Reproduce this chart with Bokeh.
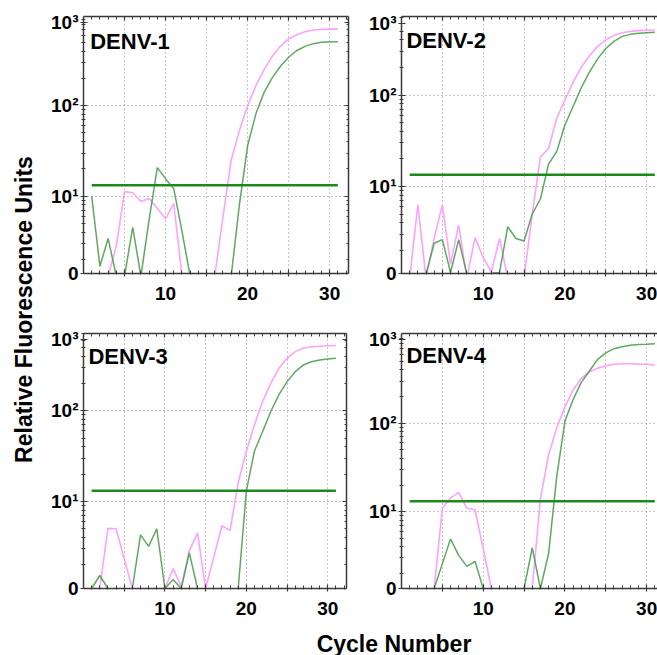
import math
from bokeh.plotting import figure
from bokeh.models import Range1d, FixedTicker, CustomJSTickFormatter, LinearAxis, LogAxis, Label
from bokeh.layouts import row, column
from bokeh.embed import file_html
from bokeh.resources import INLINE

# ---------------- data ----------------
cycles = list(range(1, 32))
panel_names = ["DENV-1", "DENV-2", "DENV-3", "DENV-4"]

pink_d1 = [1.3, 1.3, 1.3, 2.8, 11.2, 10.9, 8.7, 9.4, 7.3, 5.6, 8.3, 1.3, 1.3, 1.3, 1.3, 1.3,
           5.9, 24.9, 53, 100, 166, 250, 353, 457, 550, 612, 660, 690, 701, 707, 707]
green_d1 = [10, 1.67, 3.4, 1.3, 1.3, 4.5, 1.3, 5.5, 20.7, 15.6, 12.1, 4.1, 1.3, 1.3, 1.3, 1.3,
            1.3, 1.3, 8, 36, 81, 140, 204, 274, 345, 410, 455, 488, 506, 510, 512]

pink_d2 = [1.0, 6.3, 1.0, 2.75, 6.3, 1.41, 3.8, 1.0, 2.76, 1.67, 1.17, 2.7, 1.0, 1.0, 1.0, 5.0,
           21, 26, 56, 88, 138, 201, 269, 340, 401, 448, 480, 496, 505, 510, 513]
green_d2 = [1.0, 1.0, 1.1, 2.4, 2.63, 1.15, 2.63, 1.1, 1.0, 1.0, 1.13, 1.15, 3.65, 2.7, 2.54, 5.0,
            7.3, 17.6, 24.2, 47, 75, 120, 178, 248, 322, 385, 437, 460, 473, 480, 485]

pink_d3 = [1.0, 1.1, 5.06, 5.0, 2.34, 1.1, 1.0, 1.0, 1.0, 1.1, 1.82, 1.16, 2.88, 4.5, 1.1, 2.44,
           5.4, 4.8, 16.1, 35.9, 70, 127, 200, 293, 377, 447, 486, 506, 513, 518, 523]
green_d3 = [1.1, 1.53, 1.1, 1.0, 1.0, 1.1, 4.28, 3.2, 5.0, 1.1, 1.38, 1.1, 2.72, 1.1, 1.0, 1.0,
            1.0, 1.0, 1.1, 13.1, 36, 59, 98, 150, 209, 269, 318, 346, 362, 371, 377]

pink_d4 = [1.25, 1.25, 1.25, 1.35, 10.9, 14.3, 16.5, 10.9, 10.5, 3.8, 1.35, 1.25, 1.25, 1.25, 1.25, 1.35,
           13.9, 44, 89, 152, 238, 322, 383, 420, 445, 464, 470, 470, 466, 464, 452]
green_d4 = [1.25, 1.25, 1.25, 1.35, 2.58, 4.9, 3.2, 2.4, 2.74, 1.35, 1.25, 1.25, 1.25, 1.25, 1.35, 3.9,
            1.35, 3.34, 25, 105, 185, 290, 390, 527, 626, 697, 732, 760, 775, 780, 795]

pink_series = [pink_d1, pink_d2, pink_d3, pink_d4]
green_series = [green_d1, green_d2, green_d3, green_d4]
thresholds = [13.2, 13.4, 13.1, 13.1]

y_bottom = [1.39, 1.12, 1.1, 1.35]
y_top = [975, 721, 708, 1035]
x_end = [32.3, 31.33, 32.3, 31.33]
y_tick_labels = ["0", "10\u00b9", "10\u00b2", "10\u00b3"]
x_major_ticks = [5, 10, 15, 20, 25, 30]
x_minor_ticks = list(range(1, 33))
y_grid_ticks = [10, 100]
y_minor_ticks = [2, 3, 4, 5, 6, 7, 8, 9, 20, 30, 40, 50, 60, 70, 80, 90,
                 200, 300, 400, 500, 600, 700, 800, 900]

# ---------------- layout / style ----------------
FONT = "Liberation Sans"
AX = "#3a3a3a"
PINK = "#ff9cff"
GREEN = "#4f9f4f"
THR = "#1e8a1e"

# width, height, border left, right, top, bottom
geom = [
    (304, 320, 35, 4, 15, 46),
    (305, 320, 49, 0, 16, 47),
    (304, 304, 33, 6, 12, 36),
    (305, 304, 49, 0, 13, 34),
]
title_x = [0.82, 0.6, 0.6, 0.6]
title_drop = [25, 24, 23.3, 21.7]   # px from frame top to title baseline
top_label_drop = 6.5                # px: "10^3" label sits just below the top


def y_at(bot, top, frame_h, drop):
    lb, lt = math.log10(bot), math.log10(top)
    return 10 ** (lt - drop * (lt - lb) / frame_h)


x_fmt_code = "const r = Math.round(tick); return (r % 10 === 0) ? String(r) : '';"
y_fmt_code = """
let best = 0, bd = 1e9;
for (let i = 0; i < vals.length; i++) {
  const d = Math.abs(Math.log(tick) - Math.log(vals[i]));
  if (d < bd) { bd = d; best = i; }
}
return labs[best];
"""
blank_code = "return '';"


def style_common(ax):
    ax.axis_line_color = AX
    ax.axis_line_width = 1.5
    ax.major_tick_line_color = AX
    ax.minor_tick_line_color = AX
    ax.major_tick_line_width = 1.2
    ax.minor_tick_line_width = 1.0


panels = []
for i in range(4):
    w, h, bl, br, bt, bb = geom[i]
    frame_h = h - bt - bb
    bot, top = y_bottom[i], y_top[i]
    p = figure(width=w, height=h, x_range=Range1d(0, x_end[i]), y_range=Range1d(bot, top),
               y_axis_type="log", toolbar_location=None, output_backend="svg",
               min_border_left=bl, min_border_right=br, min_border_top=bt, min_border_bottom=bb,
               background_fill_color="white", border_fill_color="white")
    p.outline_line_color = None

    top_tick = y_at(bot, top, frame_h, top_label_drop)
    yticks = [bot, 10, 100, top_tick]

    x_ticker = FixedTicker(ticks=x_major_ticks, minor_ticks=x_minor_ticks)
    y_ticker = FixedTicker(ticks=yticks, minor_ticks=y_minor_ticks)

    xa = p.xaxis[0]
    xa.ticker = x_ticker
    xa.formatter = CustomJSTickFormatter(code=x_fmt_code)
    style_common(xa)
    xa.major_tick_in = 4
    xa.major_tick_out = 3
    xa.minor_tick_in = 3
    xa.minor_tick_out = 1
    xa.major_label_standoff = 10
    xa.major_label_text_font = FONT
    xa.major_label_text_font_style = "bold"
    xa.major_label_text_font_size = "19px"
    xa.major_label_text_color = "black"

    ya = p.yaxis[0]
    ya.ticker = y_ticker
    ya.formatter = CustomJSTickFormatter(args=dict(vals=yticks, labs=y_tick_labels), code=y_fmt_code)
    style_common(ya)
    ya.major_tick_in = 4
    ya.major_tick_out = 3
    ya.minor_tick_in = 2
    ya.minor_tick_out = 2
    ya.major_label_standoff = 2
    ya.major_label_text_font = FONT
    ya.major_label_text_font_style = "bold"
    ya.major_label_text_font_size = "19px"
    ya.major_label_text_color = "black"

    above = LinearAxis(ticker=x_ticker, formatter=CustomJSTickFormatter(code=blank_code))
    style_common(above)
    above.major_tick_in = 4
    above.major_tick_out = 0
    above.minor_tick_in = 3
    above.minor_tick_out = 0
    above.major_label_standoff = 0
    above.major_label_text_font_size = "0px"
    p.add_layout(above, "above")

    if i in (0, 2):
        right = LogAxis(ticker=y_ticker, formatter=CustomJSTickFormatter(code=blank_code))
        style_common(right)
        right.major_tick_in = 4
        right.major_tick_out = 0
        right.minor_tick_in = 2
        right.minor_tick_out = 0
        right.major_label_standoff = 0
        right.major_label_text_font_size = "0px"
        p.add_layout(right, "right")

    p.xgrid.ticker = FixedTicker(ticks=x_major_ticks)
    p.ygrid.ticker = FixedTicker(ticks=y_grid_ticks)
    for g in (p.xgrid[0], p.ygrid[0]):
        g.grid_line_color = "#8a8a8a"
        g.grid_line_dash = "1 3"
        g.grid_line_width = 1

    p.line(cycles, pink_series[i], line_color=PINK, line_width=1.6, line_alpha=0.95)
    p.line(cycles, green_series[i], line_color=GREEN, line_width=1.5, line_alpha=0.9)
    p.segment(x0=[cycles[0]], x1=[cycles[-1]], y0=[thresholds[i]], y1=[thresholds[i]],
              line_color=THR, line_width=2.5)

    p.add_layout(Label(x=title_x[i], y=y_at(bot, top, frame_h, title_drop[i]),
                       text=panel_names[i], text_font=FONT, text_font_style="bold",
                       text_font_size="22px", text_color="black",
                       text_align="left", text_baseline="alphabetic"))
    panels.append(p)

# y-axis title figure
ylab = figure(width=48, height=655, x_range=Range1d(0, 48), y_range=Range1d(0, 655),
              toolbar_location=None, output_backend="svg", min_border=0,
              x_axis_location=None, y_axis_location=None)
ylab.grid.visible = False
ylab.outline_line_color = None
ylab.add_layout(Label(x=23, y=346, text="Relative Fluorescence Units", angle=math.pi / 2,
                      text_font=FONT, text_font_style="bold", text_font_size="23px",
                      text_color="black", text_align="center", text_baseline="middle"))

# x-axis title figure
xlab = figure(width=609, height=31, x_range=Range1d(0, 609), y_range=Range1d(0, 31),
              toolbar_location=None, output_backend="svg", min_border=0,
              x_axis_location=None, y_axis_location=None)
xlab.grid.visible = False
xlab.outline_line_color = None
xlab.add_layout(Label(x=345.5, y=12, text="Cycle Number",
                      text_font=FONT, text_font_style="bold", text_font_size="23px",
                      text_color="black", text_align="center", text_baseline="middle"))

layout = row(ylab, column(row(panels[0], panels[1]), row(panels[2], panels[3]), xlab))

open("out.html", "w").write(file_html(layout, INLINE))
